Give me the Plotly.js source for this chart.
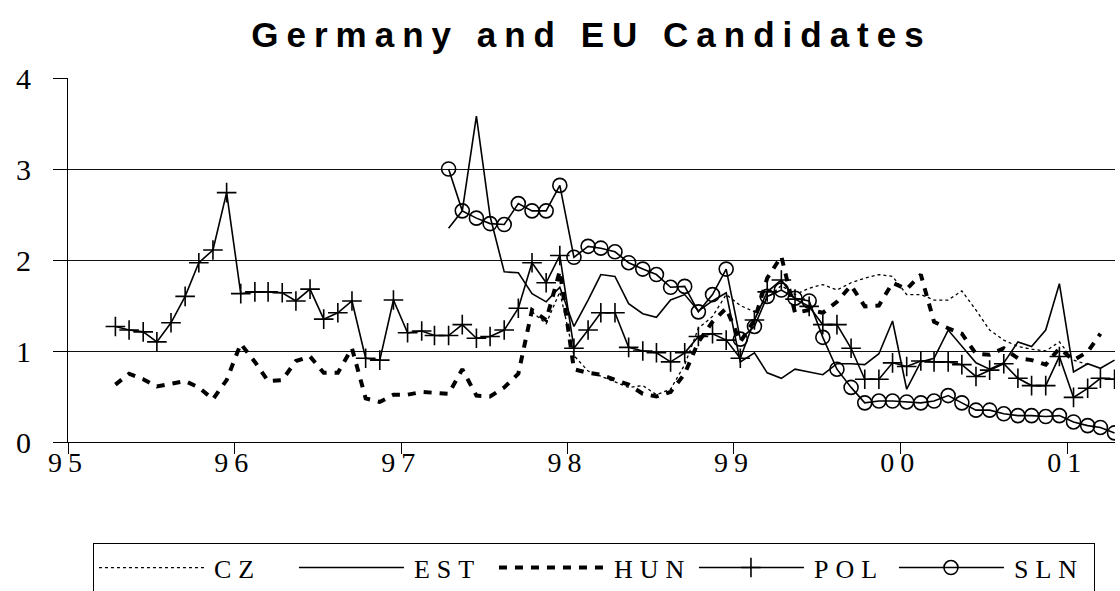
<!DOCTYPE html>
<html><head><meta charset="utf-8">
<script src="https://cdn.plot.ly/plotly-3.0.1.min.js"></script>
<style>html,body{margin:0;padding:0;background:#fff;}</style>
</head><body>
<div id="chart" style="width:1120px;height:591px;"></div>
<script>
// ---- data (monthly, first month given as [year, month]) ----
const chartTitle = 'Germany and EU Candidates';
const seriesNames = ['CZ', 'EST', 'HUN', 'POL', 'SLN'];

const czStart = [1997, 10];
const czValues = [1.43, 1.30, 1.65,
  0.95, 0.78, 0.72, 0.66, 0.60, 0.62, 0.52, 0.58, 0.85, 1.25, 1.38, 1.62,
  1.50, 1.43, 1.58, 1.72, 1.62, 1.69, 1.73, 1.67, 1.75, 1.80, 1.84, 1.82,
  1.62, 1.62, 1.56, 1.56, 1.66, 1.45, 1.23, 1.12, 1.05, 1.02, 1.00, 1.10,
  0.90, 0.85];

const estStart = [1997, 4];
const estValues = [2.35, 2.54, 3.58, 2.48, 1.87, 1.86, 1.63, 1.54, 1.70,
  1.27, 1.56, 1.84, 1.82, 1.52, 1.41, 1.37, 1.56, 1.62, 1.44, 1.55, 1.64,
  0.88, 0.98, 0.76, 0.70, 0.80, 0.77, 0.74, 0.86, 0.86, 0.85, 0.97, 1.33,
  0.58, 0.88, 0.92, 1.23, 1.05, 0.87, 0.80, 0.87, 1.10, 1.05, 1.23, 1.74,
  0.77, 0.86, 0.81, 0.90];

const hunStart = [1995, 4];
const hunValues = [0.63, 0.75, 0.69, 0.61, 0.64, 0.67, 0.60, 0.47, 0.68,
  1.08, 0.88, 0.67, 0.68, 0.89, 0.94, 0.76, 0.76, 1.03, 0.48, 0.44, 0.52,
  0.52, 0.55, 0.54, 0.53, 0.80, 0.51, 0.50, 0.60, 0.75, 1.45, 1.34, 1.88,
  0.80, 0.76, 0.74, 0.68, 0.63, 0.53, 0.50, 0.55, 0.75, 1.10, 1.32, 1.47,
  1.10, 1.34, 1.80, 2.04, 1.42, 1.45, 1.42, 1.54, 1.72, 1.49, 1.50, 1.75,
  1.68, 1.84, 1.32, 1.25, 1.19, 0.97, 0.96, 1.03, 0.92, 0.90, 0.85, 1.03,
  0.90, 0.99, 1.19];

const polStart = [1995, 4];
const polValues = [1.27, 1.23, 1.21, 1.10, 1.31, 1.60, 1.97, 2.11, 2.74,
  1.63, 1.65, 1.65, 1.64, 1.55, 1.68, 1.35, 1.42, 1.55, 0.92, 0.90, 1.56,
  1.20, 1.22, 1.17, 1.17, 1.29, 1.14, 1.16, 1.23, 1.47, 1.97, 1.75, 2.05,
  1.03, 1.23, 1.42, 1.42, 1.04, 1.00, 0.98, 0.88, 0.98, 1.16, 1.19, 1.12,
  0.92, 1.34, 1.65, 1.78, 1.57, 1.49, 1.29, 1.29, 1.03, 0.69, 0.69, 0.87,
  0.83, 0.89, 0.88, 0.88, 0.85, 0.72, 0.79, 0.86, 0.70, 0.62, 0.62, 0.94,
  0.49, 0.59, 0.70, 0.69];

const slnStart = [1997, 4];
const slnValues = [3.00, 2.54, 2.46, 2.40, 2.39, 2.62, 2.54, 2.54, 2.82,
  2.03, 2.15, 2.13, 2.09, 1.97, 1.90, 1.84, 1.70, 1.71, 1.43, 1.62, 1.90,
  1.13, 1.27, 1.60, 1.67, 1.58, 1.55, 1.15, 0.80, 0.60, 0.43, 0.45, 0.45,
  0.44, 0.43, 0.45, 0.51, 0.43, 0.35, 0.35, 0.31, 0.29, 0.29, 0.28, 0.29,
  0.22, 0.18, 0.16, 0.10];

// ---- helpers ----
function monthDates(start, n) {
  const out = [];
  let y = start[0], m = start[1];
  for (let i = 0; i < n; i++) {
    out.push(y + '-' + String(m).padStart(2, '0') + '-15');
    m++; if (m > 12) { m = 1; y++; }
  }
  return out;
}

const black = '#000000';
const traces = [
  { name: seriesNames[0], x: monthDates(czStart, czValues.length), y: czValues,
    mode: 'lines', line: { color: black, width: 1.3, dash: 'dot' } },
  { name: seriesNames[1], x: monthDates(estStart, estValues.length), y: estValues,
    mode: 'lines', line: { color: black, width: 1.6 } },
  { name: seriesNames[2], x: monthDates(hunStart, hunValues.length), y: hunValues,
    mode: 'lines', line: { color: black, width: 4, dash: '8px,8px' } },
  { name: seriesNames[3], x: monthDates(polStart, polValues.length), y: polValues,
    mode: 'lines+markers', line: { color: black, width: 1.6 },
    marker: { symbol: 'cross-thin-open', size: 14, color: black, line: { color: black, width: 1.6 } } },
  { name: seriesNames[4], x: monthDates(slnStart, slnValues.length), y: slnValues,
    mode: 'lines+markers', line: { color: black, width: 1.6 },
    marker: { symbol: 'circle-open', size: 14, color: black, line: { color: black, width: 1.6 } } }
];

const serif = 'Liberation Serif, Times New Roman, serif';
const layout = {
  width: 1120, height: 591,
  paper_bgcolor: '#ffffff', plot_bgcolor: '#ffffff',
  margin: { l: 68, r: 5, t: 78, b: 149, autoexpand: false },
  showlegend: true,
  title: { text: chartTitle, x: 0.5, xref: 'paper', xanchor: 'center',
    y: 0.941, yref: 'container', yanchor: 'middle',
    font: { family: 'Liberation Sans, Arial, sans-serif', size: 35, color: black, weight: 'bold' } },
  xaxis: {
    type: 'date', range: ['1995-01-01', '2001-04-16'],
    tick0: '1995-01-01', dtick: 'M12', tickformat: '%y',
    ticks: 'outside', ticklen: 11, tickcolor: black, tickwidth: 1,
    showline: true, linecolor: black, linewidth: 1,
    showgrid: false, zeroline: false,
    tickfont: { family: serif, size: 28, color: black },
    ticklabelstandoff: -16,
    fixedrange: true
  },
  yaxis: {
    range: [0, 4], dtick: 1, tick0: 0,
    ticks: 'outside', ticklen: 14, tickcolor: black, tickwidth: 1,
    showline: true, linecolor: black, linewidth: 1,
    showgrid: true, gridcolor: '#111111', gridwidth: 1, zeroline: false,
    tickfont: { family: serif, size: 30, color: black },
    ticklabelstandoff: 16,
    fixedrange: true
  },
  legend: {
    orientation: 'h', xref: 'container', yref: 'container',
    x: 0.083, xanchor: 'left', y: 0.081, yanchor: 'top',
    bordercolor: black, borderwidth: 1, bgcolor: '#ffffff',
    font: { family: serif, size: 26, color: black },
    itemwidth: 110, entrywidth: 75, entrywidthmode: 'pixels',
    traceorder: 'normal', itemclick: false, itemdoubleclick: false
  }
};

Plotly.newPlot('chart', traces, layout, { displayModeBar: false, staticPlot: true }).then(function (gd) {
  gd.querySelectorAll('.gtitle').forEach(function (t) { t.style.letterSpacing = '8px'; });
  gd.querySelectorAll('.xtick text').forEach(function (t) { t.style.letterSpacing = '6px'; });
  gd.querySelectorAll('.legendtext').forEach(function (t) { t.style.letterSpacing = '7px'; });
  gd.querySelectorAll('.legendlines path').forEach(function (p) { p.setAttribute('d', 'M5,0h105'); });
  gd.querySelectorAll('.legendpoints path.scatterpts').forEach(function (p) { p.setAttribute('transform', 'translate(57,0)'); });
});
</script>
</body></html>
